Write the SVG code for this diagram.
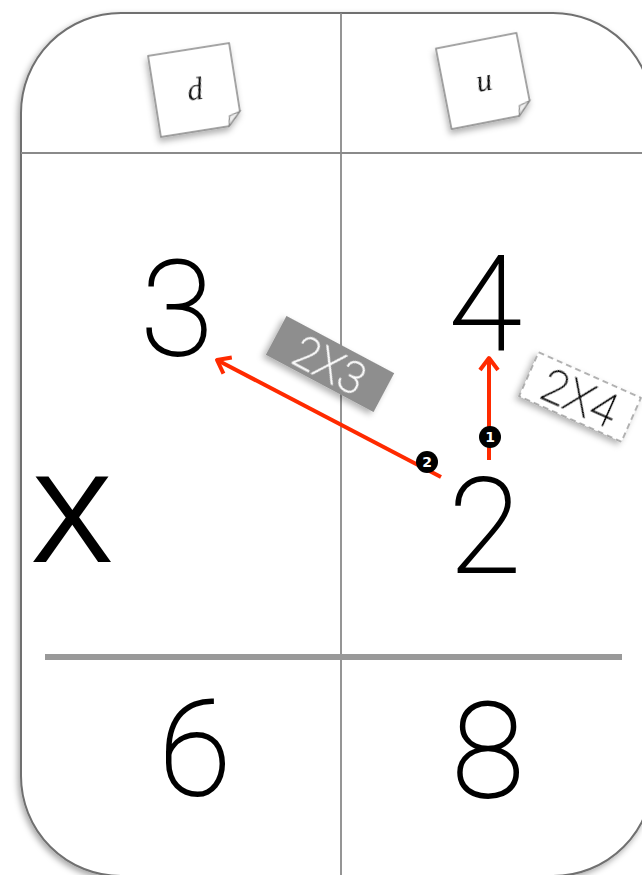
<svg xmlns="http://www.w3.org/2000/svg" width="642" height="875" viewBox="0 0 642 875">
<style>
.grid{stroke:#8a8a8a;stroke-width:1.8;fill:none}
.big{font-family:Roboto,Lato,sans-serif;font-weight:100;font-size:132px;fill:#000;stroke:#000;stroke-width:2;text-anchor:middle}
.note{fill:#fff;stroke:#888;stroke-width:1.5}
.hand{font-family:"Liberation Serif",serif;font-style:italic;font-size:32px;fill:#111;text-anchor:middle}
.arrow{stroke:#ff2a00;stroke-width:4;fill:none}
.badge{fill:#000}
.bnum{font-family:"DejaVu Sans",sans-serif;font-weight:bold;font-size:14px;fill:#fff;text-anchor:middle}
</style>
<defs>
<filter id="sh" x="-20%" y="-20%" width="140%" height="140%">
<feDropShadow dx="-2" dy="3" stdDeviation="3" flood-color="#000" flood-opacity="0.35"/>
</filter>
<filter id="sh2" x="-30%" y="-30%" width="160%" height="160%">
<feDropShadow dx="-2" dy="4" stdDeviation="3" flood-color="#000" flood-opacity="0.3"/>
</filter>
<marker id="ah" markerUnits="userSpaceOnUse" markerWidth="22" markerHeight="22" viewBox="0 0 22 22" refX="19" refY="11" orient="auto">
<path d="M7,2 L19,11 L7,20" fill="none" stroke="#ff2a00" stroke-width="4" stroke-linejoin="round"/>
</marker>
</defs>
<rect width="642" height="875" fill="#fff"/>
<g id="card">
<rect x="21" y="13" width="632" height="863" rx="100" ry="100" fill="#fff" stroke="#707070" stroke-width="2" filter="url(#sh)"/>
<line class="grid" x1="341" y1="13" x2="341" y2="876"/>
<line class="grid" x1="21" y1="153" x2="653" y2="153"/>
<line x1="45" y1="657" x2="622" y2="657" stroke="#999" stroke-width="6"/>
</g>
<g id="note-d" transform="translate(195,90) rotate(-9)" filter="url(#sh2)">
<path class="note" d="M-41,-41 L41,-41 L41,28 L28,41 L-41,41 Z"/>
<path d="M41,28 L30,31 L28,41 Z" fill="#eee" stroke="#888" stroke-width="1.2"/>
<text class="hand" x="0" y="10">d</text>
</g>
<g id="note-u" transform="translate(484,81) rotate(-11)" filter="url(#sh2)">
<path class="note" d="M-41,-41 L41,-41 L41,28 L28,41 L-41,41 Z"/>
<path d="M41,28 L30,31 L28,41 Z" fill="#eee" stroke="#888" stroke-width="1.2"/>
<text class="hand" x="0" y="10">u</text>
</g>
<g id="n3"><text class="big" x="177" y="355">3</text></g>
<g id="n4"><text class="big" x="485" y="350">4</text></g>
<g id="n2"><text class="big" x="485" y="572">2</text></g>
<g id="times"><text x="72" y="562" font-family="Liberation Sans,Arial,sans-serif" font-size="125" text-anchor="middle" fill="#000">X</text></g>
<g id="n6"><text class="big" x="195" y="795">6</text></g>
<g id="n8"><text class="big" x="488" y="797">8</text></g>
<g id="connectors">
<line class="arrow" x1="489" y1="460" x2="489" y2="358" marker-end="url(#ah)"/>
<line class="arrow" x1="441" y1="477" x2="217" y2="360" marker-end="url(#ah)"/>
</g>
<g id="label-2x3" transform="translate(330,364) rotate(28)" filter="url(#sh2)">
<rect x="-61" y="-22" width="122" height="44" fill="#8e8e8e"/>
<text x="0" y="17" font-family="Roboto,Lato,sans-serif" font-weight="100" font-size="44" fill="#fff" stroke="#fff" stroke-width="0.8" text-anchor="middle">2X3</text>
</g>
<g id="label-2x4" transform="translate(580,397) rotate(24)" filter="url(#sh2)">
<rect x="-56" y="-24" width="112" height="48" fill="#fff" stroke="#999" stroke-width="1.5" stroke-dasharray="6,4"/>
<text x="0" y="17" font-family="Roboto,Lato,sans-serif" font-weight="100" font-size="46" fill="#000" stroke="#000" stroke-width="0.8" text-anchor="middle">2X4</text>
</g>
<g id="badge-1">
<circle class="badge" cx="490" cy="437" r="11"/>
<text class="bnum" x="490" y="442">1</text>
</g>
<g id="badge-2">
<circle class="badge" cx="427" cy="462" r="11"/>
<text class="bnum" x="427" y="467">2</text>
</g>
</svg>
